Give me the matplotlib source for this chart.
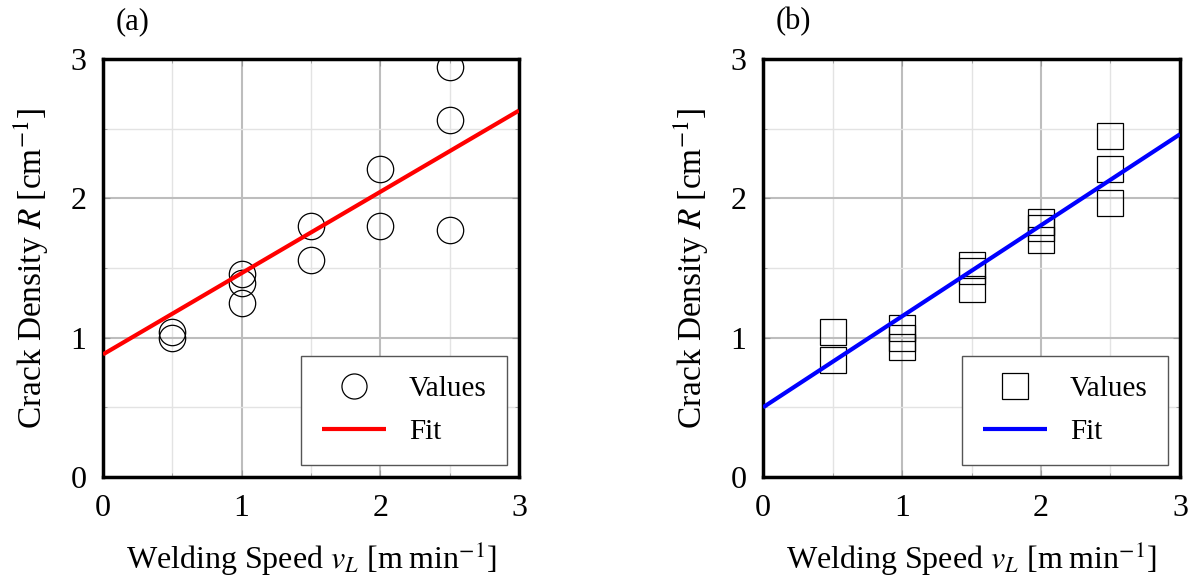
import numpy as np
import matplotlib.pyplot as plt
from matplotlib.ticker import MultipleLocator

plt.rcParams['font.family'] = ['Liberation Serif', 'DejaVu Serif']
plt.rcParams['mathtext.fontset'] = 'stix'

# panel (a): circles
speed_a = [0.5, 0.5, 1.0, 1.0, 1.0, 1.5, 1.5, 2.0, 2.0, 2.5, 2.5, 2.5]
density_a = [1.04, 1.00, 1.46, 1.39, 1.25, 1.80, 1.56, 2.21, 1.80, 2.94, 2.56, 1.77]
fit_a = [0.88, 2.63]  # fit values at speed 0 and 3

# panel (b): squares
speed_b = [0.5, 0.5, 1.0, 1.0, 1.0, 1.5, 1.5, 1.5, 2.0, 2.0, 2.0, 2.5, 2.5, 2.5]
density_b = [1.04, 0.84, 1.07, 1.00, 0.93, 1.52, 1.48, 1.35, 1.83, 1.79, 1.70, 2.45, 2.21, 1.97]
fit_b = [0.50, 2.46]
fit_x = [0, 3]

fig = plt.figure(figsize=(11.96, 5.82), dpi=100)
ax_a = fig.add_axes([0.0861, 0.1804, 0.3478, 0.7182])
ax_b = fig.add_axes([0.638, 0.1804, 0.3486, 0.7182])

panels = [
    (ax_a, speed_a, density_a, fit_a, 'o', 'red', '(a)'),
    (ax_b, speed_b, density_b, fit_b, 's', 'blue', '(b)'),
]

for ax, xs, ys, fit, marker, color, tag in panels:
    ax.plot(xs, ys, linestyle='none', marker=marker, markersize=19,
            markerfacecolor='none', markeredgecolor='black',
            markeredgewidth=0.9, label='Values', zorder=3)
    ax.plot(fit_x, fit, color=color, linewidth=3, label='Fit', zorder=4,
            solid_capstyle='butt')
    ax.set_xlim(0, 3)
    ax.set_ylim(0, 3)
    ax.xaxis.set_major_locator(MultipleLocator(1))
    ax.yaxis.set_major_locator(MultipleLocator(1))
    ax.xaxis.set_minor_locator(MultipleLocator(0.5))
    ax.yaxis.set_minor_locator(MultipleLocator(0.5))
    ax.grid(which='major', color='#bdbdbd', linewidth=1.5)
    ax.grid(which='minor', color='#e3e3e3', linewidth=1.0)
    ax.set_axisbelow(True)
    ax.tick_params(which='both', direction='in', labelsize=23, color='#999999',
                   top=True, right=True)
    ax.tick_params(which='major', length=5, pad=12)
    ax.tick_params(which='minor', length=3)
    for sp in ax.spines.values():
        sp.set_linewidth(2.5)
    ax.set_xlabel('Welding Speed $v_L$ [m\u2009min$^{-1}$]', fontsize=23, labelpad=12)
    ax.set_ylabel('Crack Density $R$ [cm$^{-1}$]', fontsize=24, labelpad=14)
    ax.text(0.072, 1.09, tag, transform=ax.transAxes, fontsize=22,
            ha='center', va='center')
    leg = ax.legend(loc='lower right', fontsize=21, fancybox=False,
                    framealpha=1, edgecolor='#555555', borderpad=0.7,
                    handlelength=2.2, handletextpad=0.8, labelspacing=0.55,
                    borderaxespad=0.4, markerscale=0.95)
    leg.get_frame().set_linewidth(1.0)

fig.savefig('out.png', dpi=100)
